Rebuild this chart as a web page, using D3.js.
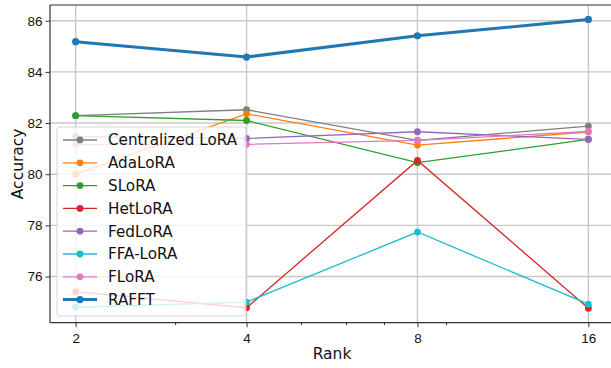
<!DOCTYPE html>
<html>
<head>
<meta charset="utf-8">
<script src="https://cdn.jsdelivr.net/npm/d3@7"></script>
<style>
  body { margin: 0; background: #fff; }
  svg { font-family: 'DejaVu Sans', sans-serif; display: block; }
</style>
</head>
<body>
<svg id="chart" width="611" height="368"></svg>
<script>
// ranks on the x axis (log scale)
let ranks = [2, 4, 8, 16];
let yTicks = [76, 78, 80, 82, 84, 86];
let minorTicks = [3, 5, 6, 7, 9];

let methods = ['Centralized LoRA', 'AdaLoRA', 'SLoRA', 'HetLoRA', 'FedLoRA', 'FFA-LoRA', 'FLoRA', 'RAFFT'];
let colors = ['#7f7f7f', '#ff7f0e', '#2ca02c', '#d62728', '#9467bd', '#17becf', '#e377c2', '#1f77b4'];

let centralized = [82.29, 82.52, 81.32, 81.88];
let adalora     = [80.00, 82.36, 81.14, 81.65];
let slora       = [82.29, 82.10, 80.45, 81.36];
let hetlora     = [75.41, 74.78, 80.54, 74.76];
let fedlora     = [81.47, 81.40, 81.66, 81.36];
let ffalora     = [74.80, 75.00, 77.74, 74.92];
let flora       = [81.16, 81.17, 81.32, 81.67];
let rafft       = [85.18, 84.58, 85.41, 86.05];

let series = [centralized, adalora, slora, hetlora, fedlora, ffalora, flora, rafft];

let svg = d3.select('#chart');
let mLeft = 50, mRight = 614, mTop = 5, mBottom = 322.7;

// matplotlib-like 5% margins
let lx = [Math.log2(2), Math.log2(16)];
let padX = (lx[1] - lx[0]) * 0.05;
let x = d3.scaleLog().base(2)
  .domain([Math.pow(2, lx[0] - padX), Math.pow(2, lx[1] + padX)])
  .range([mLeft, mRight]);

let allVals = series.flat();
let ymin = d3.min(allVals), ymax = d3.max(allVals);
let padY = (ymax - ymin) * 0.05;
let y = d3.scaleLinear()
  .domain([ymin - padY, ymax + padY])
  .range([mBottom, mTop]);

// grid
let grid = svg.append('g');
grid.selectAll('line.gy')
  .data(yTicks)
  .enter()
  .append('line')
  .attr('x1', mLeft).attr('x2', mRight)
  .attr('y1', d => y(d)).attr('y2', d => y(d))
  .style('stroke', '#c8c8c8')
  .style('stroke-width', '1.4px');
grid.selectAll('line.gx')
  .data(ranks)
  .enter()
  .append('line')
  .attr('x1', d => x(d)).attr('x2', d => x(d))
  .attr('y1', mTop).attr('y2', mBottom)
  .style('stroke', '#c8c8c8')
  .style('stroke-width', '1.4px');

// axes
let xAxis = d3.axisBottom(x).tickValues(ranks).tickFormat(d3.format('d')).tickSize(4.5).tickSizeOuter(0);
let gx = svg.append('g').attr('transform', `translate(0,${mBottom})`).call(xAxis);
gx.select('.domain').remove();
gx.selectAll('text').style('font-size', '13.5px').style('fill', '#111').attr('dy', '0.95em');
gx.selectAll('line').style('stroke', '#333');

svg.append('g').attr('transform', `translate(0,${mBottom})`)
  .selectAll('line')
  .data(minorTicks)
  .enter()
  .append('line')
  .attr('x1', d => x(d)).attr('x2', d => x(d))
  .attr('y1', 0).attr('y2', 2.5)
  .style('stroke', '#333');

let yAxis = d3.axisLeft(y).tickValues(yTicks).tickSize(4.5).tickSizeOuter(0);
let gy = svg.append('g').attr('transform', `translate(${mLeft},0)`).call(yAxis);
gy.select('.domain').remove();
gy.selectAll('text').style('font-size', '13.5px').style('fill', '#111');
gy.selectAll('line').style('stroke', '#333');

// spines
svg.append('line').attr('x1', mLeft).attr('x2', mLeft).attr('y1', mTop).attr('y2', mBottom).style('stroke', '#333').style('stroke-width', '1.2px');
svg.append('line').attr('x1', mLeft).attr('x2', mRight).attr('y1', mBottom).attr('y2', mBottom).style('stroke', '#333').style('stroke-width', '1.2px');
svg.append('line').attr('x1', mLeft).attr('x2', mRight).attr('y1', mTop).attr('y2', mTop).style('stroke', '#333').style('stroke-width', '1.2px');

// labels
svg.append('text')
  .attr('x', (mLeft + mRight) / 2).attr('y', 359)
  .attr('text-anchor', 'middle')
  .style('font-size', '15.5px').style('fill', '#111')
  .text('Rank');
svg.append('text')
  .attr('transform', `translate(23,${(mTop + mBottom) / 2}) rotate(-90)`)
  .attr('text-anchor', 'middle')
  .style('font-size', '15.5px').style('fill', '#111')
  .text('Accuracy');

// series
let line = d3.line().x((d, i) => x(ranks[i])).y(d => y(d));
series.forEach((vals, k) => {
  let isMain = methods[k] == 'RAFFT';
  let g = svg.append('g');
  g.append('path')
    .datum(vals)
    .attr('d', line)
    .style('fill', 'none')
    .style('stroke', colors[k])
    .style('stroke-width', isMain ? '3px' : '1.3px');
  g.selectAll('circle')
    .data(vals)
    .enter()
    .append('circle')
    .attr('cx', (d, i) => x(ranks[i]))
    .attr('cy', d => y(d))
    .attr('r', isMain ? 3.6 : 3.4)
    .style('fill', colors[k]);
});

// legend
let lg = svg.append('g');
lg.append('rect')
  .attr('x', 57).attr('y', 127)
  .attr('width', 189).attr('height', 189)
  .attr('rx', 3)
  .style('fill', 'white').style('fill-opacity', 0.8)
  .style('stroke', '#cccccc').style('stroke-opacity', 0.8)
  .style('stroke-width', '1px');

let items = lg.selectAll('g.item')
  .data(methods)
  .enter()
  .append('g')
  .attr('transform', (d, i) => `translate(0,${140 + i * 22.8})`);
items.append('line')
  .attr('x1', 63).attr('x2', 97)
  .attr('y1', 0).attr('y2', 0)
  .style('stroke', (d, i) => colors[i])
  .style('stroke-width', d => d == 'RAFFT' ? '3px' : '1.3px');
items.append('circle')
  .attr('cx', 80).attr('cy', 0)
  .attr('r', d => d == 'RAFFT' ? 3.6 : 3.4)
  .style('fill', (d, i) => colors[i]);
items.append('text')
  .attr('x', 108).attr('y', 0)
  .attr('dy', '0.36em')
  .style('font-size', '15.2px').style('fill', '#111')
  .text(d => d);
</script>
</body>
</html>
